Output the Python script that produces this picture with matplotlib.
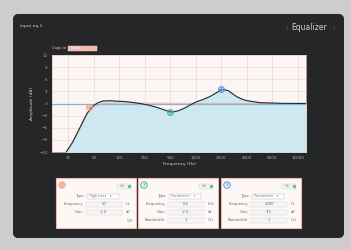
import numpy as np
import matplotlib
matplotlib.use("Agg")
import matplotlib.pyplot as plt
from matplotlib.patches import FancyBboxPatch, Rectangle, Circle
from matplotlib.colors import LinearSegmentedColormap

# combined EQ response (Hz, dB)
curve_hz = [29.5, 35, 39.5, 46, 52, 58, 63, 70, 79.5, 95, 110, 140, 174, 220, 276, 340,
            400, 470, 535, 620, 727, 850, 1010, 1220, 1460, 1800, 2050, 2400, 3030, 3500,
            3990, 5800, 10000, 20000]
curve_db = [-12, -9.6, -7.4, -4.6, -2.4, -1.1, -0.4, 0.2, 0.6, 0.7, 0.6, 0.5, 0.3, 0.0, -0.4, -0.9,
            -1.4, -1.9, -2.1, -1.8, -1.2, -0.4, 0.4, 1.0, 1.7, 2.8, 3.5, 3.2, 1.7, 1.1,
            0.7, 0.2, 0.05, 0.0]

# high pass band alone (pink line)
hp_hz = [29.5, 39.5, 52, 63, 80, 120, 20000]
hp_db = [-12, -7.7, -2.7, -0.8, 0.0, 0.1, 0.0]

# band handles
band_hz = [54, 500, 2000]
band_db = [-0.9, -2.1, 3.6]
band_col = ['#f09a84', '#3db59b', '#5a8fd8']

x_ticks = [31.25, 62.5, 125, 250, 500, 1000, 2000, 4000, 8000, 16000]
x_labels = ['31', '62', '125', '250', '500', '1000', '2000', '4000', '8000', '16000']
y_ticks = [-12, -9, -6, -3, 0, 3, 6, 9, 12]

band_types = ['High pass', 'Parametric', 'Parametric']
band_freq = ['50', '0.5', '2000']
band_unit = ['Hz', 'kHz', 'Hz']
band_gain = ['-1.0', '-2.0', '3.5']
band_bw = ['', '1', '1']

W, H = 351, 249
fig = plt.figure(figsize=(W / 100, H / 100), dpi=100)
fig.patch.set_facecolor('#cdcdcd')

bg = fig.add_axes([0, 0, 1, 1])
bg.set_xlim(0, W)
bg.set_ylim(H, 0)
bg.axis('off')

# dark panel with soft light at top
panel = FancyBboxPatch((13, 14), 331, 224, boxstyle='round,pad=0,rounding_size=6',
                       fc='#242628', ec='none')
bg.add_patch(panel)
gx = np.linspace(-1, 1, 200)
gy = np.linspace(0, 1, 120)
GX, GY = np.meshgrid(gx, gy)
glow = np.exp(-(GX * 1.4) ** 2) * np.exp(-GY * 5)
cm = LinearSegmentedColormap.from_list('pn', ['#25272a', '#5e6062'])
img = bg.imshow(glow, extent=[13, 344, 238, 14], cmap=cm, vmin=0, vmax=1, aspect='auto')
img.set_clip_path(panel)

bg.text(20, 26, 'input eq 1', color='#d8d8d8', fontsize=3.2, va='center')
bg.text(285, 27, '::', color='#8a8a8a', fontsize=4, va='center')
bg.text(291, 27, 'Equalizer', color='#d0d0d0', fontsize=5.5, va='center')
bg.text(332, 27, '::', color='#8a8a8a', fontsize=4, va='center')

bg.text(52, 48, 'Copy to', color='#d8d8d8', fontsize=2.6, va='center')
bg.add_patch(Rectangle((68, 45.5), 29, 5, fc='#f3b9b0', ec='#f8d8d0', lw=0.3))
bg.text(71, 48, 'Select...', color='#ffffff', fontsize=2.4, va='center')
bg.text(44, 53, '::', color='#8a8a8a', fontsize=3, va='center')

ax = fig.add_axes([52 / W, 1 - 152 / H, (306 - 52) / W, (152 - 55) / H])
ax.set_facecolor('#fbf5f3')
ax.set_xscale('log')
ax.set_xlim(20, 20000)
ax.set_ylim(-12, 12)
ax.set_xticks(x_ticks)
ax.set_xticklabels(x_labels)
ax.set_xticks([], minor=True)
ax.set_yticks(y_ticks)
ax.tick_params(colors='#a8a8a8', labelsize=3, length=0, pad=3)
ax.grid(True, color='#eccfca', lw=0.4)
for s in ax.spines.values():
    s.set_color('#e8c8c0')
    s.set_linewidth(0.5)

ax.fill_between(curve_hz, curve_db, -12, color='#cde8f1', zorder=2)
ax.axhline(0, color='#7fb6d8', lw=0.9, zorder=3)
ax.plot(hp_hz, hp_db, color='#f2a294', lw=0.6, zorder=3)
ax.plot(curve_hz, curve_db, color='#1d2a33', lw=0.8, zorder=4)
for f, d, c in zip(band_hz, band_db, band_col):
    ax.plot(f, d, 'o', ms=4.2, mfc=c, mec=c, alpha=0.35, zorder=5)
    ax.plot(f, d, 'o', ms=4.2, mfc='none', mec=c, mew=0.5, zorder=5)
    ax.plot(f, d, '+', ms=4.2, color=c, mew=0.4, zorder=5)
ax.set_xlabel('Frequency (Hz)', color='#d0d0d0', fontsize=3.2, labelpad=1)
ax.set_ylabel('Amplitude (dB)', color='#d0d0d0', fontsize=3.2, labelpad=4)

# band parameter boxes
rows_y = [18, 26, 34, 42]
for i, x0 in enumerate([56, 138, 221]):
    y0 = 178
    bg.add_patch(Rectangle((x0, y0), 80, 50, fc='#fdf8f6', ec='#f0b8ac', lw=0.8))
    c = band_col[i]
    bg.add_patch(Circle((x0 + 6, y0 + 7), 3.2, fc=c if i == 0 else 'none', ec=c, lw=0.7,
                        alpha=0.7 if i == 0 else 1))
    if i > 0:
        bg.text(x0 + 6, y0 + 7, str(i + 1), color=c, fontsize=3, ha='center', va='center',
                fontweight='bold')
    bg.add_patch(Rectangle((x0 + 61, y0 + 6), 14, 4.5, fc='#eef3f4', ec='#c9d3d6', lw=0.3))
    bg.text(x0 + 64, y0 + 8.3, 'On', color='#888888', fontsize=2.4, va='center')
    bg.plot(x0 + 72.5, y0 + 8.3, 'o', ms=1.3, color='#55c07a')
    lab = ['Type', 'Frequency', 'Gain', 'Bandwidth']
    vals = [band_types[i], band_freq[i], band_gain[i], band_bw[i]]
    units = ['', band_unit[i], 'dB', 'Oct']
    for r, (l, v, u) in enumerate(zip(lab, vals, units)):
        yy = y0 + rows_y[r]
        if r == 0:
            bg.text(x0 + 29, yy, l, color='#6a6a6a', fontsize=2.7, ha='right', va='center')
            bg.add_patch(Rectangle((x0 + 31, yy - 2.5), 32, 5, fc='#ffffff',
                                   ec='#b8b8b8', lw=0.3))
            bg.text(x0 + 33, yy, v + '   \u25be', color='#777777', fontsize=2.5, va='center')
            continue
        if r == 3 and i == 0:
            bg.text(x0 + 71, yy, 'Q/H', color='#777777', fontsize=2.5, va='center')
            continue
        bg.text(x0 + 27, yy, l, color='#6a6a6a', fontsize=2.7, ha='right', va='center')
        bg.add_patch(Rectangle((x0 + 30, yy - 2.5), 36, 5, fc='#f5f5f5',
                               ec='#d0d0d0', lw=0.3))
        bg.text(x0 + 48, yy, v, color='#666666', fontsize=2.7, ha='center', va='center')
        bg.text(x0 + 70, yy, u, color='#777777', fontsize=2.5, va='center')

fig.savefig('out.png', dpi=100, facecolor=fig.get_facecolor())
